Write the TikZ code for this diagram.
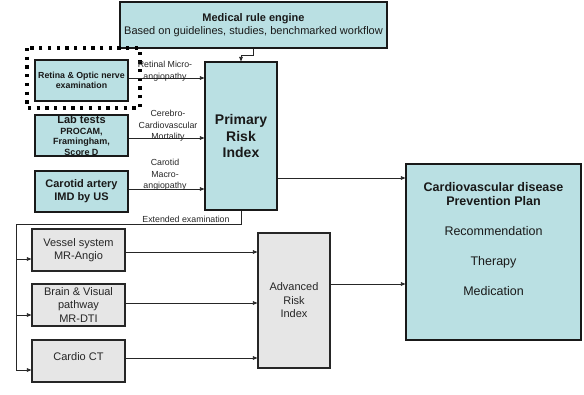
\documentclass[tikz,border=0pt]{standalone}
\usepackage{fontspec}
\setmainfont{Liberation Sans}
\usetikzlibrary{arrows.meta}
\definecolor{teal1}{HTML}{BAE0E3}
\definecolor{gray1}{HTML}{E6E6E6}
\begin{document}
\begin{tikzpicture}[x=1pt,y=-1pt,
  tbox/.style={draw=black!90, line width=1.1pt, fill=teal1, inner sep=0pt, align=center, text=black!90},
  gbox/.style={draw=black!85, line width=1.1pt, fill=gray1, inner sep=0pt, align=center, text=black!85,
    font=\fontsize{11}{13.5}\selectfont},
  conn/.style={line width=0.7pt, draw=black!85},
  arr/.style={conn, -{Triangle[length=4.5pt,width=3.6pt]}},
  lbl/.style={font=\fontsize{8.8}{11.5}\selectfont, align=center, text=black!85, inner sep=0pt},
]
\useasboundingbox (0,0) rectangle (584,394);

% top engine
\node[tbox, minimum width=267pt, minimum height=46pt, font=\fontsize{11}{13}\selectfont] (engine) at (253.5,25)
  {\textbf{Medical rule engine}\\Based on guidelines, studies, benchmarked workflow};

% primary risk index
\node[tbox, minimum width=72pt, minimum height=148pt, font=\fontsize{14}{16.5}\selectfont\bfseries] (primary) at (241,136)
  {Primary\\Risk\\Index};

% left inputs
\node[tbox, minimum width=93pt, minimum height=41pt, font=\fontsize{8.8}{10.5}\selectfont\bfseries] (retina) at (81.5,80.5)
  {Retina \& Optic nerve\\examination};
\draw[line width=3.3pt, dash pattern=on 3.3pt off 5.4pt] (27,48) rectangle (140,108);

\node[tbox, minimum width=93pt, minimum height=41pt, font=\fontsize{9}{10.8}\selectfont\bfseries] (lab) at (81.5,135.5)
  {{\fontsize{11}{12}\selectfont Lab tests}\\PROCAM,\\Framingham,\\Score D};

\node[tbox, minimum width=93pt, minimum height=41pt, font=\fontsize{11}{13}\selectfont\bfseries] (carotid) at (81.5,191.5)
  {Carotid artery\\IMD by US};

% lower inputs
\node[gbox, minimum width=93pt, minimum height=42pt] (vessel) at (78.5,250) {Vessel system\\MR-Angio};
\node[gbox, minimum width=93pt, minimum height=42pt] (brain) at (78.5,305) {Brain \& Visual\\pathway\\MR-DTI};
\node[gbox, minimum width=93pt, minimum height=42pt, text depth=8pt] (ct) at (78.5,361) {Cardio CT};

\node[gbox, minimum width=72pt, minimum height=135pt] (adv) at (294,300.5) {Advanced\\Risk\\Index};

% CVD plan
\node[tbox, minimum width=175pt, minimum height=176pt] (cvd) at (493.5,252) {};
\node[anchor=north, align=center, inner sep=0pt, text=black!90, font=\fontsize{12.5}{14}\selectfont] (cvdtext) at (493.5,182)
  {\textbf{Cardiovascular disease}\\\textbf{Prevention Plan}\\[16.5pt]Recommendation\\[16pt]Therapy\\[16pt]Medication};

% connectors
\draw[arr] (engine.south) -- ++(0,7) -| (primary.north);

\draw[arr] ([yshift=2.5pt]retina.east) -- ([yshift=2.5pt]retina.east -| primary.west);
\draw[arr] ([yshift=-2.5pt]lab.east) -- ([yshift=-2.5pt]lab.east -| primary.west);
\draw[arr] ([yshift=2.5pt]carotid.east) -- ([yshift=2.5pt]carotid.east -| primary.west);

\node[lbl] at (165,71) {Retinal Micro-\\angiopathy};
\node[lbl] at (168,126) {Cerebro-\\Cardiovascular\\Mortality};
\node[lbl] at (165,175) {Carotid\\Macro-\\angiopathy};

\draw[arr] ([yshift=-42pt]primary.east) -- ([yshift=-42pt]primary.east -| cvd.west);
\draw[arr] ([yshift=16.5pt]adv.east) -- ([yshift=16.5pt]adv.east -| cvd.west);

\coordinate (busT) at (16,224);
\coordinate (busB) at (16,370);
\draw[conn] (primary.south) |- (busT) -- (busB);
\node[lbl] at (186,219.5) {Extended examination};

\draw[arr] ([yshift=-9pt]vessel.west -| busT) -- ([yshift=-9pt]vessel.west);
\draw[arr] ([yshift=-10pt]brain.west -| busT) -- ([yshift=-10pt]brain.west);
\draw[arr] (busB) -- (busB -| ct.west);

\draw[arr] ([yshift=-2pt]vessel.east) -- ([yshift=-2pt]vessel.east -| adv.west);
\draw[arr] ([yshift=2pt]brain.east) -- ([yshift=2pt]brain.east -| adv.west);
\draw[arr] ([yshift=3pt]ct.east) -- ([yshift=3pt]ct.east -| adv.west);
\end{tikzpicture}
\end{document}
